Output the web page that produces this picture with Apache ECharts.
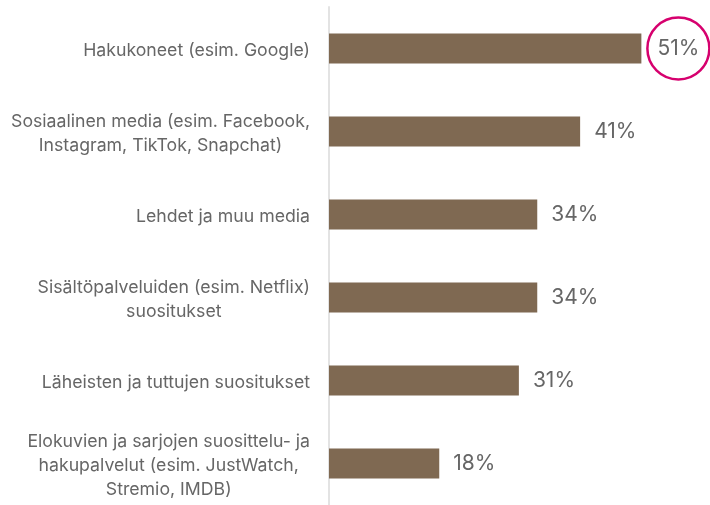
<!DOCTYPE html>
<html>
<head>
<meta charset="utf-8">
<script src="https://cdn.jsdelivr.net/npm/echarts@6/dist/echarts.min.js"></script>
<style>
  html, body { margin: 0; padding: 0; background: #ffffff; }
  #chart { width: 710px; height: 505px; }
</style>
</head>
<body>
<div id="chart"></div>
<script>
// Sources used for finding films and series (share of respondents, %)
const categories = [
  'Hakukoneet (esim. Google)',
  'Sosiaalinen media (esim. Facebook,\nInstagram, TikTok, Snapchat)',
  'Lehdet ja muu media',
  'Sisältöpalveluiden (esim. Netflix)\nsuositukset',
  'Läheisten ja tuttujen suositukset',
  'Elokuvien ja sarjojen suosittelu- ja\nhakupalvelut (esim. JustWatch,\nStremio, IMDB)'
];
const values = [51, 41, 34, 34, 31, 18];
// index of the value that gets a ring around its label
const highlighted = 0;

const FONT = 'Inter';
const TEXT = '#666666';
const BAR = '#7f6952';
const RING = '#d6006e';
const CAT_SIZE = 17.7;
const VAL_SIZE = 21;

const seriesData = values.map((v, i) => {
  if (i !== highlighted) return v;
  return {
    value: v,
    label: {
      distance: 6,
      padding: 0,
      formatter: p => '{ring|' + p.value + '%}',
      rich: {
        ring: {
          width: 62, height: 62, lineHeight: 62,
          align: 'center', verticalAlign: 'middle',
          borderColor: RING, borderWidth: 2.5, borderRadius: 31,
          fontFamily: FONT, fontSize: VAL_SIZE, color: TEXT
        }
      }
    }
  };
});

const chart = echarts.init(document.getElementById('chart'), null, { renderer: 'canvas' });
chart.setOption({
  animation: false,
  grid: { left: 329, top: 7, width: 367.5, height: 504, containLabel: false },
  xAxis: {
    type: 'value', min: 0, max: 60,
    show: false
  },
  yAxis: {
    type: 'category',
    data: categories,
    inverse: true,
    axisLine: { show: true, lineStyle: { color: '#e3e3e3', width: 2 } },
    axisTick: { show: false },
    axisLabel: {
      margin: 19,
      align: 'right',
      padding: [5, 0, 0, 0],
      // each line is centred inside the right-aligned label block
      formatter: v => v.split('\n').map(s => '{c|' + s + '}').join('\n'),
      rich: {
        c: {
          align: 'center',
          fontFamily: FONT, fontSize: CAT_SIZE, color: TEXT,
          lineHeight: 24
        }
      }
    }
  },
  series: [{
    type: 'bar',
    data: seriesData,
    barWidth: 30,
    itemStyle: { color: BAR },
    label: {
      show: true, position: 'right', distance: 14,
      padding: [3, 0, 0, 0],
      formatter: '{c}%',
      fontFamily: FONT, fontSize: VAL_SIZE, color: TEXT
    }
  }]
});
</script>
</body>
</html>
